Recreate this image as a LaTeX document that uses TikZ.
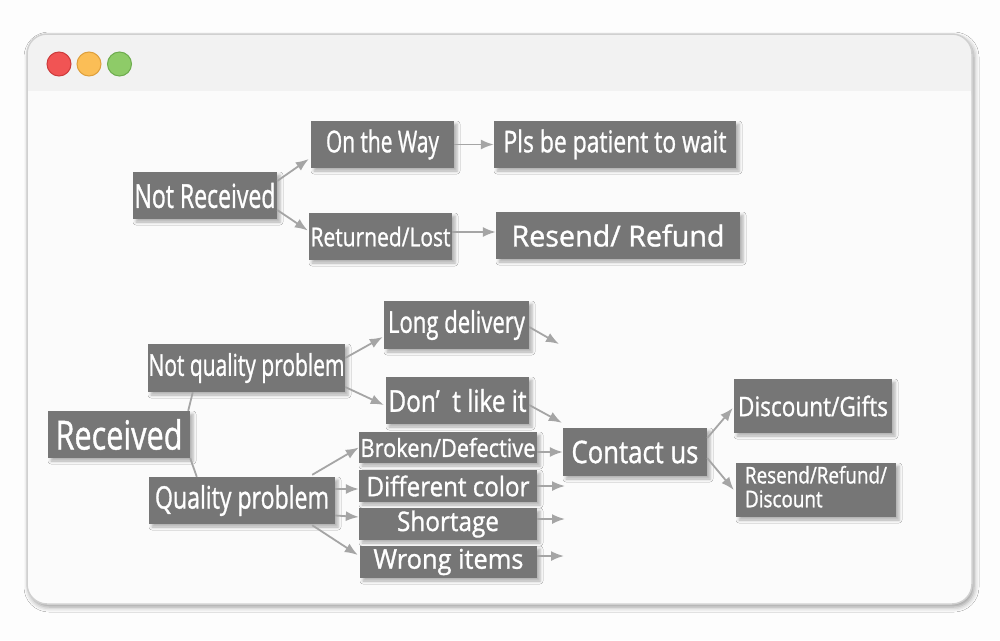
\documentclass[tikz,border=0pt]{standalone}
\usepackage{fontspec}
\setmainfont{Open Sans}
\newfontfamily\bxfont{Open Sans}[FakeBold=1.2]
\usepackage{graphicx}
\usetikzlibrary{arrows.meta,calc,shadows.blur}
\definecolor{boxgray}{RGB}{118,118,118}
\definecolor{arrgray}{RGB}{165,165,165}
\definecolor{bgc}{RGB}{253,253,253}
\definecolor{titlec}{RGB}{242,242,242}
\definecolor{contc}{RGB}{251,251,251}
\definecolor{framec}{RGB}{208,208,208}
\definecolor{redl}{RGB}{241,84,84}
\definecolor{redb}{RGB}{205,60,60}
\definecolor{orl}{RGB}{251,190,86}
\definecolor{orb}{RGB}{222,160,60}
\definecolor{grl}{RGB}{142,203,104}
\definecolor{grb}{RGB}{110,172,78}
\newcommand\tx[3]{\resizebox{#2pt}{\height}{\bxfont\fontsize{#1pt}{#1pt}\selectfont #3}}
\tikzset{
  box/.style={fill=boxgray, text=white, inner sep=0pt, anchor=center,
    blur shadow={shadow xshift=3pt, shadow yshift=-3pt, shadow blur radius=3pt, shadow opacity=30}},
  arr/.style={draw=arrgray, line width=1.8pt, -{Latex[length=13pt,width=10pt]}},
  link/.style={draw=arrgray, line width=1.8pt},
  light/.style={circle, minimum size=24pt, inner sep=0pt, line width=1pt}
}
\begin{document}
\begin{tikzpicture}[x=1pt,y=-1pt]
\useasboundingbox (0,0) rectangle (1000,640);
\fill[bgc] (0,0) rectangle (1000,640);
% window
\path[blur shadow={shadow xshift=2pt, shadow yshift=-3pt, shadow blur radius=5pt, shadow opacity=40}, fill=contc, rounded corners=20pt] (27,34) rectangle (972,604);
\fill[titlec, rounded corners=20pt] (27,34) rectangle (972,110);
\fill[contc] (28,91) rectangle (971,130);
\draw[framec, line width=1.5pt, rounded corners=20pt] (27,34) rectangle (972,604);
\node[light, fill=redl, draw=redb] (red) at (59,64) {};
\node[light, fill=orl, draw=orb] (orange) at (89,64) {};
\node[light, fill=grl, draw=grb] (green) at (119.5,64) {};
% upper boxes
\node[box, minimum width=144pt, minimum height=47pt] (nr) at (205,195.5) {\tx{33}{141}{Not Received}};
\node[box, minimum width=143pt, minimum height=47pt] (otw) at (382.5,144.5) {\tx{30}{113}{On the Way}};
\node[box, minimum width=143pt, minimum height=47pt] (rl) at (380.5,236.5) {\tx{26}{140}{Returned/Lost}};
\node[box, minimum width=242pt, minimum height=47pt] (pls) at (615,144.5) {\tx{30}{223}{Pls be patient to wait}};
\node[box, minimum width=244pt, minimum height=47pt] (rr) at (618,235.5) {\tx{29}{213}{Resend/ Refund}};
% lower boxes
\node[box, minimum width=142pt, minimum height=47pt] (rec) at (119,434.5) {\tx{40}{127}{Received}};
\node[box, minimum width=197pt, minimum height=48pt] (nqp) at (246.5,368) {\tx{30}{196}{Not quality problem}};
\node[box, minimum width=186pt, minimum height=47pt] (qp) at (242,500.5) {\tx{31}{174}{Quality problem}};
\node[box, minimum width=145pt, minimum height=48pt] (ld) at (456.5,325) {\tx{30}{137}{Long delivery}};
\node[box, minimum width=143pt, minimum height=47pt] (dl) at (457.5,400.5) {\tx{30}{138}{Don’\ \ t like it}};
\node[box, minimum width=178pt, minimum height=31pt] (bd) at (448,447.5) {\tx{25}{175}{Broken/Defective}};
\node[box, minimum width=178pt, minimum height=32pt] (dc) at (448,486) {\tx{27}{163}{Different color}};
\node[box, minimum width=178pt, minimum height=32pt] (sh) at (448,524) {\tx{27}{102}{Shortage}};
\node[box, minimum width=177pt, minimum height=32pt] (wi) at (448.5,562) {\tx{27}{150}{Wrong items}};
\node[box, minimum width=144pt, minimum height=48pt] (cu) at (635,452) {\tx{31}{127}{Contact us}};
\node[box, minimum width=158pt, minimum height=54pt] (dg) at (813,406) {\tx{27}{150}{Discount/Gifts}};
\node[box, minimum width=160pt, minimum height=54pt] (rrd) at (816,490) {\resizebox{142pt}{\height}{\bxfont\fontsize{23pt}{23pt}\selectfont\begin{tabular}{@{}l@{}}Resend/Refund/\\Discount\end{tabular}}};
% free ends
\coordinate (e1) at (559,344);
\coordinate (e2) at (565,486);
\coordinate (e3) at (565,519);
\coordinate (e4) at (564,556);
% connectors upper
\draw[arr] ($(nr.east)+(0,-14.5)$) -- ($(otw.west)+(-2,14.5)$);
\draw[arr] ($(nr.east)+(0,14.5)$) -- ($(rl.west)+(-1,-6)$);
\draw[arr] (otw.east) -- (pls.west);
\draw[arr] ($(rl.east)+(0,-4.5)$) -- ($(rr.west)+(0,-3.5)$);
% connectors lower
\draw[link] ($(rec.north east)+(-2,0)$) -- ($(nqp.south west)+(45,0)$);
\draw[link] (rec.south east) -- ($(qp.north west)+(48,0)$);
\draw[arr] ($(nqp.east)+(0,-10)$) -- ($(ld.west)+(-1,12)$);
\draw[arr] ($(nqp.east)+(0,19)$) -- ($(dl.west)+(-2,4.5)$);
\draw[arr] ($(ld.east)+(0,2)$) -- (e1);
\draw[arr] ($(dl.east)+(0,4.5)$) -- ($(cu.north west)+(-1,-5)$);
\draw[arr] ($(bd.east)+(0,4.5)$) -- (cu.west);
\draw[arr] (dc.east) -- (e2);
\draw[arr] ($(sh.east)+(0,-5)$) -- (e3);
\draw[arr] ($(wi.east)+(0,-6)$) -- (e4);
\draw[arr] ($(qp.north east)+(-23,-2)$) -- (bd.west);
\draw[arr] ($(qp.east)+(0,-11.5)$) -- ($(dc.west)+(0,3)$);
\draw[arr] ($(qp.east)+(0,15)$) -- ($(sh.west)+(0,-7)$);
\draw[arr] ($(qp.south east)+(-23,1)$) -- ($(wi.west)+(-2,-7)$);
\draw[arr] ($(cu.east)+(0,-14)$) -- ($(dg.west)+(-1,2)$);
\draw[arr] ($(cu.east)+(0,6)$) -- ($(rrd.west)+(-2,0)$);
\end{tikzpicture}
\end{document}
